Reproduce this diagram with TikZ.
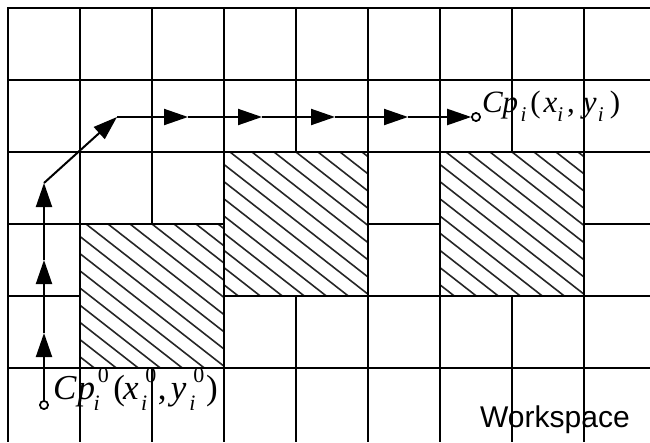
\documentclass[tikz,border=0pt]{standalone}
\usepackage{fontspec}
\setmainfont{Liberation Serif}
\newfontfamily\arialf{Liberation Sans}
\usetikzlibrary{arrows.meta,calc}
\newcommand\lsub[2]{\raisebox{-0.32em}{\fontsize{#1}{#1}\selectfont\itshape #2}}
\newcommand\lstack[3]{\makebox[#3][l]{\rlap{\hspace*{0.12em}\raisebox{0.46em}{\fontsize{#1}{#1}\selectfont 0}}\raisebox{-0.32em}{\fontsize{#1}{#1}\selectfont\itshape #2}}}
\begin{document}
\begin{tikzpicture}[x=1pt,y=-1pt,
  gridline/.style={line width=2.2pt,black},
  hatchline/.style={line width=1.6pt,black!85},
  pathline/.style={line width=2pt,black},
  arr/.style={pathline,-{Triangle[length=24pt,width=16pt]}},
  endpt/.style={circle,draw,line width=1.6pt,fill=white,minimum size=8pt,inner sep=0pt}]
\useasboundingbox (0,0) rectangle (650,442);
\fill[white] (0,0) rectangle (650,442);
% grid
\foreach \x in {8,80,152,224,296,368,440,512,584}
  \draw[gridline] (\x,7) -- (\x,442);
\foreach \y in {8,80,152,224,296,368}
  \draw[gridline] (7,\y) -- (650,\y);
% hatched obstacles
\foreach \ax/\ay in {80/224,224/152,440/152}{
  \fill[white] (\ax,\ay) rectangle ++(144,144);
  \begin{scope}
    \clip (\ax,\ay) rectangle ++(144,144);
    \foreach \k in {-14,...,8}
      \draw[hatchline] ($(\ax,\ay)+(\k*22+6,0)$) ++(38:-300) -- ++(38:700);
  \end{scope}
  \draw[gridline] (\ax,\ay) rectangle ++(144,144);
}
% path points
\coordinate (s1) at (44,333);
\coordinate (s2) at (44,260);
\coordinate (c1) at (44,183);
\coordinate (c2) at (117,117);
\coordinate (h1) at (188,117);
\coordinate (h2) at (262,117);
\coordinate (h3) at (335,117);
\coordinate (h4) at (408,117);
\node[endpt] (start) at (44,405) {};
\node[endpt] (goal) at (476,117) {};
\draw[arr] (start) -- (s1);
\draw[arr] (s1) -- (s2);
\draw[arr] (s2) -- (c1);
\draw[arr] (c1) -- (c2);
\draw[arr] (c2) -- (h1);
\draw[arr] (h1) -- (h2);
\draw[arr] (h2) -- (h3);
\draw[arr] (h3) -- (h4);
\draw[arr] (h4) -- (goal.west);
\node[endpt] at (goal) {};
\node[endpt] at (start) {};
% labels
\node[anchor=base west,inner sep=0pt,font=\fontsize{31}{31}\selectfont] (goallabel) at (482,112)
 {\textit{C}\kern-0.02em\textit{p}\kern0.08em\lsub{21}{i}\kern0.13em(\kern0.09em\textit{x}\lsub{21}{i}\kern0.13em,\kern0.26em\textit{y}\kern0.04em\lsub{21}{i}\kern0.2em)};
\node[anchor=base west,inner sep=0pt,font=\fontsize{35}{35}\selectfont] (startlabel) at (53,399)
 {\textit{C}\kern0.02em\textit{p}\kern-0.04em\lstack{22}{i}{0.36em}\kern0.2em(\kern-0.05em\textit{x}\kern0.07em\lstack{22}{i}{0.36em}\kern0.12em,\kern0.12em\textit{y}\kern0.08em\lstack{22}{i}{0.36em}\kern0.12em)};
\node[anchor=base west,inner sep=0pt,font=\arialf\fontsize{30}{30}\selectfont] (ws) at (480,427) {Workspace};
\end{tikzpicture}
\end{document}
